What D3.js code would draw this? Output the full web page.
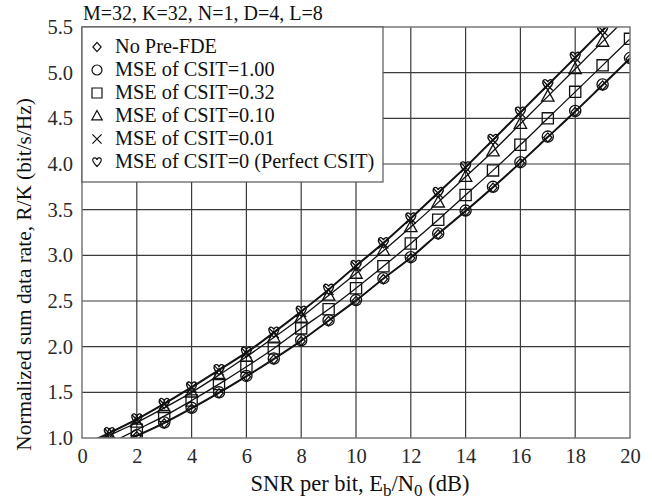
<!DOCTYPE html>
<html>
<head>
<meta charset="utf-8">
<script src="https://cdn.jsdelivr.net/npm/d3@7"></script>
<style>
  html, body { margin: 0; padding: 0; background: #fff; }
  svg { display: block; }
  svg text { font-family: "Liberation Serif", "Times New Roman", Times, "DejaVu Serif", serif; }
</style>
</head>
<body>
<svg id="chart" width="652" height="499"></svg>
<script>
// SNR per bit (dB)
const snr = [0, 1, 2, 3, 4, 5, 6, 7, 8, 9, 10, 11, 12, 13, 14, 15, 16, 17, 18, 19, 20];

// Normalized sum data rate R/K (bit/s/Hz) for each scheme
const noPreFde = [0.76, 0.89, 1.02, 1.16, 1.32, 1.49, 1.67, 1.86, 2.06, 2.28, 2.50, 2.74, 2.97, 3.23, 3.48, 3.74, 4.01, 4.29, 4.57, 4.86, 5.15];
const mse100   = [0.77, 0.90, 1.03, 1.17, 1.33, 1.50, 1.68, 1.87, 2.07, 2.29, 2.51, 2.75, 2.98, 3.24, 3.49, 3.75, 4.02, 4.30, 4.58, 4.87, 5.16];
const mse032   = [0.80, 0.94, 1.09, 1.24, 1.41, 1.59, 1.78, 1.98, 2.20, 2.41, 2.64, 2.88, 3.13, 3.39, 3.66, 3.93, 4.21, 4.50, 4.79, 5.08, 5.37];
const mse010   = [0.89, 1.03, 1.17, 1.33, 1.50, 1.69, 1.89, 2.10, 2.32, 2.56, 2.80, 3.05, 3.31, 3.58, 3.86, 4.14, 4.44, 4.74, 5.04, 5.34, 5.64];
const mse001   = [0.91, 1.05, 1.20, 1.37, 1.55, 1.74, 1.93, 2.15, 2.38, 2.62, 2.88, 3.13, 3.40, 3.68, 3.96, 4.26, 4.56, 4.86, 5.16, 5.46, 5.77];
const perfect  = [0.92, 1.06, 1.21, 1.38, 1.56, 1.75, 1.94, 2.16, 2.39, 2.63, 2.89, 3.14, 3.41, 3.69, 3.97, 4.27, 4.57, 4.87, 5.17, 5.47, 5.78];

const legendLabels = [
  "No Pre-FDE",
  "MSE of CSIT=1.00",
  "MSE of CSIT=0.32",
  "MSE of CSIT=0.10",
  "MSE of CSIT=0.01",
  "MSE of CSIT=0 (Perfect CSIT)"
];
const xTicks = [0, 2, 4, 6, 8, 10, 12, 14, 16, 18, 20];
const yTicks = [1.0, 1.5, 2.0, 2.5, 3.0, 3.5, 4.0, 4.5, 5.0, 5.5];
const titleText = "M=32, K=32, N=1, D=4, L=8";

// marker shapes, scaled by a half-size s
const shapes = {
  diamond: s => `M0,${-s}L${s * 0.9},0L0,${s}L${-s * 0.9},0Z`,
  circle: s => `M${s},0A${s},${s} 0 1 1 ${-s},0A${s},${s} 0 1 1 ${s},0Z`,
  square: s => `M${-s},${-s}H${s}V${s}H${-s}Z`,
  triangle: s => `M0,${-s * 1.05}L${s},${s * 0.75}L${-s},${s * 0.75}Z`,
  cross: s => `M${-s},${-s}L${s},${s}M${s},${-s}L${-s},${s}`,
  heart: s => {
    const k = s / 5;
    return `M0,${5 * k}C${-3 * k},${2 * k} ${-6 * k},${-1 * k} ${-4.5 * k},${-3.6 * k}` +
           `C${-3 * k},${-5.6 * k} ${-0.5 * k},${-4.6 * k} 0,${-2.4 * k}` +
           `C${0.5 * k},${-4.6 * k} ${3 * k},${-5.6 * k} ${4.5 * k},${-3.6 * k}` +
           `C${6 * k},${-1 * k} ${3 * k},${2 * k} 0,${5 * k}Z`;
  }
};

const series = [
  { name: legendLabels[0], values: noPreFde, shape: "diamond", size: 4.6 },
  { name: legendLabels[1], values: mse100, shape: "circle", size: 5.6 },
  { name: legendLabels[2], values: mse032, shape: "square", size: 5.6 },
  { name: legendLabels[3], values: mse010, shape: "triangle", size: 6.2 },
  { name: legendLabels[4], values: mse001, shape: "cross", size: 5.0 },
  { name: legendLabels[5], values: perfect, shape: "heart", size: 5.2 }
];

const svg = d3.select("#chart");
const margin = { left: 82, right: 22, top: 27, bottom: 61 };
const W = 652, H = 499;

const x = d3.scaleLinear().domain([0, 20]).range([margin.left, W - margin.right]);
const y = d3.scaleLinear().domain([1.0, 5.5]).range([H - margin.bottom, margin.top]);

svg.append("defs").append("clipPath").attr("id", "plot-clip")
  .append("rect")
  .attr("x", x(0)).attr("y", y(5.5))
  .attr("width", x(20) - x(0)).attr("height", y(1.0) - y(5.5));

// grid
const grid = svg.append("g");
grid.selectAll("line.vx").data(xTicks.slice(1, -1)).join("line")
  .attr("x1", d => x(d)).attr("x2", d => x(d))
  .attr("y1", y(1.0)).attr("y2", y(5.5))
  .attr("stroke", "#3a3a3a").attr("stroke-width", 1.2);
grid.selectAll("line.hy").data(yTicks.slice(1, -1)).join("line")
  .attr("x1", x(0)).attr("x2", x(20))
  .attr("y1", d => y(d)).attr("y2", d => y(d))
  .attr("stroke", "#3a3a3a").attr("stroke-width", 1.2);

// axes (labels only, grid carries the ticks)
const xAxis = svg.append("g")
  .attr("transform", `translate(0,${y(1.0)})`)
  .call(d3.axisBottom(x).tickValues(xTicks).tickSize(0).tickPadding(10).tickFormat(d3.format("d")));
const yAxis = svg.append("g")
  .attr("transform", `translate(${x(0)},0)`)
  .call(d3.axisLeft(y).tickValues(yTicks).tickSize(0).tickPadding(9).tickFormat(d3.format(".1f")));
[xAxis, yAxis].forEach(a => {
  a.select(".domain").remove();
  a.attr("font-family", null).attr("font-size", null);
  a.selectAll("text")
    .attr("font-size", 20.5)
    .attr("fill", "#2a2a2a");
});

// curves and markers
const plot = svg.append("g").attr("clip-path", "url(#plot-clip)");
const line = d3.line()
  .x((d, i) => x(snr[i]))
  .y(d => y(d))
  .curve(d3.curveCatmullRom.alpha(0.5));

series.forEach(s => {
  plot.append("path")
    .datum(s.values)
    .attr("d", line)
    .attr("fill", "none")
    .attr("stroke", "#111")
    .attr("stroke-width", 1.3);
});

series.forEach(s => {
  plot.append("g").selectAll("path")
    .data(s.values)
    .join("path")
    .attr("transform", (d, i) => `translate(${x(snr[i])},${y(d)})`)
    .attr("d", shapes[s.shape](s.size))
    .attr("fill", "none")
    .attr("stroke", "#111")
    .attr("stroke-width", 1.3);
});

// frame
svg.append("rect")
  .attr("x", x(0)).attr("y", y(5.5))
  .attr("width", x(20) - x(0)).attr("height", y(1.0) - y(5.5))
  .attr("fill", "none").attr("stroke", "#777").attr("stroke-width", 1.5);

// legend
const legend = svg.append("g");
legend.append("rect")
  .attr("x", x(0)).attr("y", y(5.5))
  .attr("width", 301).attr("height", 155)
  .attr("fill", "#fff").attr("stroke", "#555").attr("stroke-width", 1.2);
const legendSizes = [4.6, 5.0, 5.0, 5.2, 4.6, 4.5];
series.forEach((s, i) => {
  const cy = 47 + i * 23;
  legend.append("path")
    .attr("transform", `translate(97,${cy})`)
    .attr("d", shapes[s.shape](legendSizes[i]))
    .attr("fill", "none").attr("stroke", "#111").attr("stroke-width", 1.2);
  legend.append("text")
    .attr("x", 115).attr("y", cy + 6)
    .attr("font-size", 20.3).attr("fill", "#111")
    .text(s.name);
});

// title
svg.append("text")
  .attr("x", 83).attr("y", 20)
  .attr("font-size", 20).attr("fill", "#111")
  .text(titleText);

// x axis title with sub-scripts
const xt = svg.append("text")
  .attr("x", (x(0) + x(20)) / 2 + 4).attr("y", 491)
  .attr("text-anchor", "middle")
  .attr("font-size", 22.5).attr("fill", "#111");
xt.append("tspan").text("SNR per bit, E");
xt.append("tspan").attr("font-size", 17).attr("dy", 5).text("b");
xt.append("tspan").attr("dy", -5).text("/N");
xt.append("tspan").attr("font-size", 17).attr("dy", 5).text("0");
xt.append("tspan").attr("dy", -5).text(" (dB)");

// y axis title
svg.append("text")
  .attr("transform", `translate(31,${(y(1.0) + y(5.5)) / 2 + 42}) rotate(-90)`)
  .attr("text-anchor", "middle")
  .attr("font-size", 21.3).attr("fill", "#111")
  .text("Normalized sum data rate, R/K (bit/s/Hz)");
</script>
</body>
</html>
